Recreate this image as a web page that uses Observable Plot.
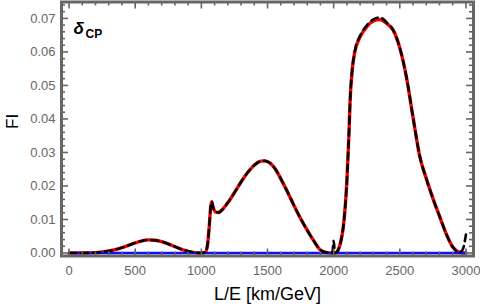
<!DOCTYPE html>
<html><head><meta charset="utf-8">
<script src="https://cdn.jsdelivr.net/npm/d3@7"></script>
<script src="https://cdn.jsdelivr.net/npm/@observablehq/plot@0.6"></script>
<style>body{margin:0;background:#fff} svg{display:block}</style>
</head><body><div id="chart"></div>
<script>
// L/E grid [km/GeV]
const LE = [0, 100, 200, 250, 300, 350, 400, 450, 500, 550, 600, 650, 700, 750, 800, 850, 900, 950, 1000,
  1030, 1045, 1060, 1070, 1078, 1090, 1110, 1130, 1160, 1200, 1250, 1300, 1350, 1400, 1450, 1480, 1520,
  1560, 1600, 1650, 1700, 1750, 1800, 1850, 1900, 1950, 1990, 2000, 2010, 2030, 2050, 2075, 2100, 2115,
  2125, 2140, 2160, 2200, 2250, 2300, 2350, 2400, 2450, 2500, 2550, 2600, 2650, 2700, 2750, 2800, 2850,
  2900, 2950, 2975, 3000];
// Fisher information, red solid curve
const fiRed = [0, 0, 0.0001, 0.0003, 0.0006, 0.0010, 0.0016, 0.0023, 0.0030, 0.0036, 0.0039, 0.0038, 0.0034,
  0.0027, 0.0019, 0.0011, 0.0005, 0.0001, 0,
  0.0002, 0.0020, 0.0080, 0.0135, 0.0153, 0.0135, 0.0122, 0.0121, 0.0130, 0.0150, 0.0180, 0.0212, 0.0240,
  0.0262, 0.0274, 0.0275, 0.0268, 0.0250, 0.0222, 0.0183, 0.0142, 0.0103, 0.0068, 0.0036, 0.0009, 0.0001,
  0, 0, 0, 0.0006, 0.0027, 0.0085, 0.0215, 0.0350, 0.0460, 0.0545, 0.0600, 0.0645, 0.0675, 0.0692, 0.0697,
  0.0685, 0.0665, 0.0612, 0.0525, 0.0405, 0.0290, 0.0222, 0.0163, 0.0110, 0.0058, 0.0018, 0.0002, 0, 0];
// Fisher information, black dashed curve
const fiBlack = [0, 0, 0.0001, 0.0003, 0.0006, 0.0010, 0.0016, 0.0023, 0.0030, 0.0036, 0.0039, 0.0038, 0.0034,
  0.0027, 0.0019, 0.0011, 0.0005, 0.0001, 0,
  0.0002, 0.0020, 0.0080, 0.0135, 0.0153, 0.0135, 0.0122, 0.0121, 0.0130, 0.0150, 0.0180, 0.0212, 0.0240,
  0.0262, 0.0274, 0.0275, 0.0268, 0.0250, 0.0222, 0.0183, 0.0142, 0.0103, 0.0068, 0.0036, 0.0009, 0.0001,
  0, 0.0036, 0, 0.0006, 0.0027, 0.0085, 0.0215, 0.0350, 0.0460, 0.0545, 0.0602, 0.0648, 0.0679, 0.0697, 0.0703,
  0.0688, 0.0665, 0.0612, 0.0525, 0.0405, 0.0290, 0.0222, 0.0163, 0.0110, 0.0058, 0.0018, 0.0002, 0.0010, 0.0055];
// blue curve (zero)
const blueLE = [0, 3000];
const blueFI = [0, 0];

const xMajor = [0, 500, 1000, 1500, 2000, 2500, 3000];
const xMinor = d3.range(0, 3001, 100).filter(v => v % 500 !== 0);
const yMajor = [0, 0.01, 0.02, 0.03, 0.04, 0.05, 0.06, 0.07];
const yTickLabels = ["0.00", "0.01", "0.02", "0.03", "0.04", "0.05", "0.06", "0.07"];
const yMinor = d3.range(0, 0.0745, 0.002).filter((v, i) => i % 5 !== 0);

const W = 480, H = 306, mL = 61, mR = 7, mT = 1.5, mB = 50.5;
const innerW = W - mL - mR, innerH = H - mT - mB;
const gray = "#666666";
const font = "'Liberation Sans', Arial, sans-serif";

const redData = LE.map((x, i) => ({x, y: fiRed[i]}));
const blackData = LE.map((x, i) => ({x, y: fiBlack[i]}));
const blueData = blueLE.map((x, i) => ({x, y: blueFI[i]}));

const tickW = 1.6;
const chart = Plot.plot({
  width: W, height: H,
  marginLeft: mL, marginRight: mR, marginTop: mT, marginBottom: mB,
  style: {fontFamily: font, background: "#fff", overflow: "visible"},
  x: {domain: [-57, 3057], axis: null},
  y: {domain: [-0.0009, 0.0749], axis: null},
  marks: [
    Plot.line(redData, {x: "x", y: "y", stroke: "#ff0000", strokeWidth: 3.4, curve: "monotone-x"}),
    Plot.line(blueData, {x: "x", y: "y", stroke: "#1010ff", strokeWidth: 2.6}),
    Plot.line(blackData, {x: "x", y: "y", stroke: "#000", strokeWidth: 2.6, strokeDasharray: "7,5", curve: "monotone-x"}),
    // inward ticks on all sides
    Plot.tickX(xMajor, {x: d => d, insetTop: innerH - 7, stroke: gray, strokeWidth: tickW}),
    Plot.tickX(xMajor, {x: d => d, insetBottom: innerH - 7, stroke: gray, strokeWidth: tickW}),
    Plot.tickX(xMinor, {x: d => d, insetTop: innerH - 4, stroke: gray, strokeWidth: tickW}),
    Plot.tickX(xMinor, {x: d => d, insetBottom: innerH - 4, stroke: gray, strokeWidth: tickW}),
    Plot.tickY(yMajor, {y: d => d, insetRight: innerW - 7, stroke: gray, strokeWidth: tickW}),
    Plot.tickY(yMajor, {y: d => d, insetLeft: innerW - 7, stroke: gray, strokeWidth: tickW}),
    Plot.tickY(yMinor, {y: d => d, insetRight: innerW - 4, stroke: gray, strokeWidth: tickW}),
    Plot.tickY(yMinor, {y: d => d, insetLeft: innerW - 4, stroke: gray, strokeWidth: tickW}),
    Plot.frame({stroke: gray, strokeWidth: 3}),
    Plot.axisX(xMajor, {anchor: "bottom", tickSize: 0, tickPadding: 9.5, fontSize: 13, fill: gray, label: null, tickFormat: d => String(d)}),
    Plot.axisY(yMajor, {anchor: "left", tickSize: 0, tickPadding: 6, fontSize: 13, fill: gray, label: null, tickFormat: (d, i) => yTickLabels[i]}),
    Plot.text(["L/E [km/GeV]"], {frameAnchor: "bottom", dy: 43.5, lineAnchor: "bottom", fontSize: 18, fill: "#000"}),
    Plot.text(["FI"], {frameAnchor: "left", dx: -49, rotate: -90, lineAnchor: "middle", fontSize: 17, fill: "#000"}),
    Plot.text(["δ"], {frameAnchor: "top-left", dx: 12, dy: 31.5, lineAnchor: "bottom", textAnchor: "start", fontSize: 17, fontWeight: "bold", fontStyle: "italic", fill: "#000"}),
    Plot.text(["CP"], {frameAnchor: "top-left", dx: 24, dy: 35.5, lineAnchor: "bottom", textAnchor: "start", fontSize: 12, fontWeight: "bold", fill: "#000"})
  ]
});
document.getElementById("chart").appendChild(chart);
</script>
</body></html>
